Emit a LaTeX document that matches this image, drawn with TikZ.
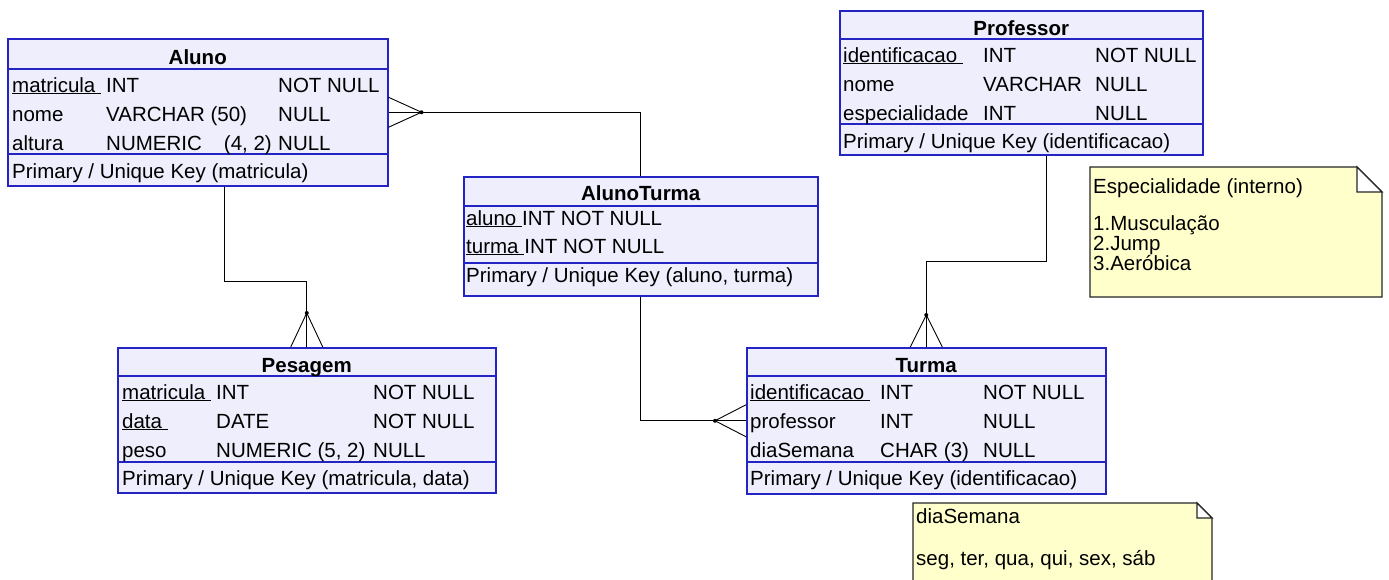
\documentclass[tikz,border=0pt]{standalone}
\usepackage{fontspec}
\setmainfont{Liberation Sans}
\usetikzlibrary{positioning}

\definecolor{tblblue}{RGB}{36,36,196}
\definecolor{tblfill}{RGB}{238,238,252}
\definecolor{notefill}{RGB}{255,255,204}
\newcommand{\erfont}{\fontsize{20.5}{25}\selectfont}

\tikzset{
 tbl/.style={draw=tblblue,fill=tblfill,line width=1.5pt,rectangle,anchor=north west,inner sep=0pt},
 sepline/.style={draw=tblblue,line width=1.1pt},
 hd/.style={anchor=base,inner sep=0pt,font=\erfont\bfseries},
 txt/.style={anchor=base west,inner sep=0pt,font=\erfont},
 rel/.style={line width=1.2pt},
 foot/.style={line width=0.9pt},
 notebox/.style={draw=black!85,fill=notefill,line width=1.2pt},
}

\begin{document}
\begin{tikzpicture}[x=1pt,y=-1pt]
 \useasboundingbox (0,0) rectangle (1389,579);

 \node[tbl,minimum width=380pt,minimum height=147pt] (aluno) at (7,38) {};
 \draw[sepline] (aluno.west |- 0,69) -- (aluno.east |- 0,69);
 \draw[sepline] (aluno.west |- 0,154) -- (aluno.east |- 0,154);
 \node[hd] (alunoH) at (aluno.north |- 0,64) {Aluno};
 \node[txt] (al1a) at (12,92) {\underline{matricula\ }};
 \node[txt] (al1b) at (106,92) {INT};
 \node[txt] (al1c) at (278,92) {NOT NULL};
 \node[txt] (al2a) at (12,121) {nome};
 \node[txt] (al2b) at (106,121) {VARCHAR (50)};
 \node[txt] (al2c) at (278,121) {NULL};
 \node[txt] (al3a) at (12,150) {altura};
 \node[txt] (al3b) at (106,150) {NUMERIC};
 \node[txt,anchor=base east] (al3d) at (272,150) {(4, 2)};
 \node[txt] (al3c) at (278,150) {NULL};
 \node[txt] (alK) at (12,178) {Primary / Unique Key (matricula)};

 \node[tbl,minimum width=363pt,minimum height=144pt] (professor) at (839,10) {};
 \draw[sepline] (professor.west |- 0,39) -- (professor.east |- 0,39);
 \draw[sepline] (professor.west |- 0,124) -- (professor.east |- 0,124);
 \node[hd] (professorH) at (professor.north |- 0,35) {Professor};
 \node[txt] (pr1a) at (843,62) {\underline{identificacao\ }};
 \node[txt] (pr1b) at (983,62) {INT};
 \node[txt] (pr1c) at (1095,62) {NOT NULL};
 \node[txt] (pr2a) at (843,91) {nome};
 \node[txt] (pr2b) at (983,91) {VARCHAR};
 \node[txt] (pr2c) at (1095,91) {NULL};
 \node[txt] (pr3a) at (843,120) {especialidade};
 \node[txt] (pr3b) at (983,120) {INT};
 \node[txt] (pr3c) at (1095,120) {NULL};
 \node[txt] (prK) at (843,148) {Primary / Unique Key (identificacao)};

 \node[tbl,minimum width=354pt,minimum height=119pt] (alunoturma) at (463,176) {};
 \draw[sepline] (alunoturma.west |- 0,206) -- (alunoturma.east |- 0,206);
 \draw[sepline] (alunoturma.west |- 0,263) -- (alunoturma.east |- 0,263);
 \node[hd] (alunoturmaH) at (alunoturma.north |- 0,200) {AlunoTurma};
 \node[txt] (at1) at (466,225) {\underline{aluno\ }INT NOT NULL};
 \node[txt] (at2) at (466,253) {\underline{turma\ }INT NOT NULL};
 \node[txt] (atK) at (466,282) {Primary / Unique Key (aluno, turma)};

 \node[tbl,minimum width=378pt,minimum height=145pt] (pesagem) at (117,347) {};
 \draw[sepline] (pesagem.west |- 0,376) -- (pesagem.east |- 0,376);
 \draw[sepline] (pesagem.west |- 0,462) -- (pesagem.east |- 0,462);
 \node[hd] (pesagemH) at (pesagem.north |- 0,372) {Pesagem};
 \node[txt] (pe1a) at (122,399) {\underline{matricula\ }};
 \node[txt] (pe1b) at (216,399) {INT};
 \node[txt] (pe1c) at (373,399) {NOT NULL};
 \node[txt] (pe2a) at (122,428) {\underline{data\ }};
 \node[txt] (pe2b) at (216,428) {DATE};
 \node[txt] (pe2c) at (373,428) {NOT NULL};
 \node[txt] (pe3a) at (122,457) {peso};
 \node[txt] (pe3b) at (216,457) {NUMERIC (5, 2)};
 \node[txt] (pe3c) at (373,457) {NULL};
 \node[txt] (peK) at (122,485) {Primary / Unique Key (matricula, data)};

 \node[tbl,minimum width=359pt,minimum height=146pt] (turma) at (746,347) {};
 \draw[sepline] (turma.west |- 0,376) -- (turma.east |- 0,376);
 \draw[sepline] (turma.west |- 0,462) -- (turma.east |- 0,462);
 \node[hd] (turmaH) at (turma.north |- 0,372) {Turma};
 \node[txt] (tu1a) at (750,399) {\underline{identificacao\ }};
 \node[txt] (tu1b) at (880,399) {INT};
 \node[txt] (tu1c) at (983,399) {NOT NULL};
 \node[txt] (tu2a) at (750,428) {professor};
 \node[txt] (tu2b) at (880,428) {INT};
 \node[txt] (tu2c) at (983,428) {NULL};
 \node[txt] (tu3a) at (750,457) {diaSemana};
 \node[txt] (tu3b) at (880,457) {CHAR (3)};
 \node[txt] (tu3c) at (983,457) {NULL};
 \node[txt] (tuK) at (750,485) {Primary / Unique Key (identificacao)};

 \draw[rel] (aluno.east) -| (alunoturma.north);
 \coordinate (cf1) at ([xshift=33pt]aluno.east);
 \fill (cf1) circle (2pt);
 \draw[foot] ([yshift=15pt]aluno.east) -- (cf1) -- ([yshift=-15pt]aluno.east);

 \coordinate (al) at ([xshift=27pt]aluno.south);
 \draw[rel] (al) -- ++(0,95) -| (pesagem.north);
 \coordinate (cf2) at ([yshift=34pt]pesagem.north);
 \fill (cf2) circle (2pt);
 \draw[foot] ([xshift=-16pt]pesagem.north) -- (cf2) -- ([xshift=16pt]pesagem.north);

 \coordinate (pr) at ([xshift=25pt]professor.south);
 \draw[rel] (pr) -- ++(0,106) -| (turma.north);
 \coordinate (cf3) at ([yshift=32pt]turma.north);
 \fill (cf3) circle (2pt);
 \draw[foot] ([xshift=-16pt]turma.north) -- (cf3) -- ([xshift=16pt]turma.north);

 \draw[rel] (alunoturma.south) |- (turma.west);
 \coordinate (cf4) at ([xshift=-31pt]turma.west);
 \fill (cf4) circle (2pt);
 \draw[foot] ([yshift=16pt]turma.west) -- (cf4) -- ([yshift=-16pt]turma.west);

 \draw[notebox] (1090,297) -- (1090,167) -- (1357,167) -- (1382,192) -- (1382,297) -- cycle;
 \draw[notebox,fill=white] (1357,167) -- (1357,192) -- (1382,192) -- cycle;
 \node[txt] (esp) at (1093,193) {Especialidade (interno)};
 \node[txt] (esp1) at (1093,230) {1.Musculação};
 \node[txt] (esp2) at (1093,250) {2.Jump};
 \node[txt] (esp3) at (1093,270) {3.Aeróbica};

 \draw[notebox] (913,585) -- (913,503) -- (1197,503) -- (1212,518) -- (1212,585);
 \draw[notebox,fill=white] (1197,503) -- (1197,518) -- (1212,518) -- cycle;
 \node[txt] (dia) at (916,523) {diaSemana};
 \node[txt] (dia1) at (916,565) {seg, ter, qua, qui, sex, sáb};
\end{tikzpicture}
\end{document}
